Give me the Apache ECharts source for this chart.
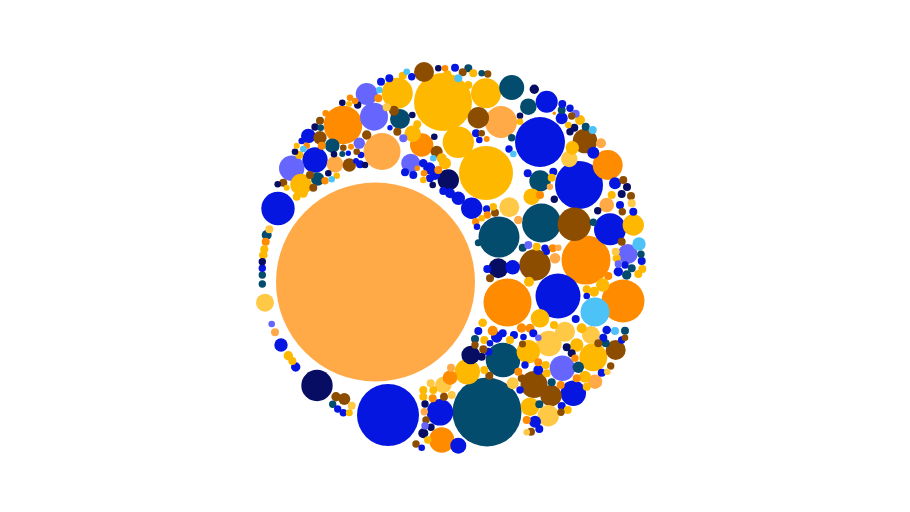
<!DOCTYPE html>
<html>
<head>
<meta charset="utf-8">
<script src="https://cdn.jsdelivr.net/npm/echarts@6/dist/echarts.min.js"></script>
<style>html,body{margin:0;padding:0;background:#fff}#main{width:910px;height:512px}</style>
</head>
<body>
<div id="main"></div>
<script>
// Category names and colours
var categories = ['peach','teal','blue','navy','brown','orange','gold','sky','violet','yellow'];
var palette = ['#FFA947','#034C6E','#0516E0','#060D62','#8C4D00','#FF8C00','#FFB800','#4CC2F7','#6666FF','#FFC845'];

// Each entry: [x, y, radius] in pack units
var peach = [[-77.5,-24,99.5],[-71,106.5,18.5],[48,136,16],[142,-123.7,7.3],[153.7,53,7.3],[-118,93.7,8.3],[102,-0.3,5.3],[148,114.7,5],[-178,-74.3,4],[65.3,38,4.3],[-2,-109.7,4],[-28.7,-153.7,3.7],[97,71.3,3.3],[105.3,10.3,3.3]];
var teal = [[34,-154,34.5],[46,21,20.5],[88.5,35,19.5],[50,-102,17.3],[58.7,170.5,12.5],[87,77,10.7],[-53,139,10],[75.3,151.3,8.3],[-120.7,112.3,7.3],[-135.3,79,6.7],[125.3,-109.3,5.7],[-186.3,23,5],[173.7,-17,4.7],[15.3,189.7,4],[108.7,148,4],[132.7,131.3,4],[178.7,-10.3,4],[-120.3,-146.3,3.7],[25.3,15.3,3.5],[22,-81,4],[98.7,-124.3,4],[86.3,-146.3,4],[172,-72.7,4],[152.7,-85.3,4],[-132.3,130.3,3.3],[-190.7,-17,3.7],[-190.7,-26,3.7],[58.7,120.3,3.7],[28.7,184.7,3.3],[140.3,35.7,3.7],[188,3.7,3.7],[-110.7,104,3],[69.7,10.3,4]];
var blue = [[-65,-157,31],[87,116,25],[126,73,24],[105,-38,22.5],[-175,49.5,16.7],[157,28.7,16],[-13,-154.3,13.3],[120.3,-135.3,12.7],[-138,98,12.7],[93.7,156.3,11],[18.7,49.7,10.7],[5.3,-187.7,8],[-144.7,122,7.3],[59.7,-9.3,7.3],[5.3,59.7,6.7],[-172,-87,6.7],[140.3,105.3,6],[108.7,139.7,6],[162,74.7,6],[82,-163.7,6],[43.7,-79,5.7],[-23.7,89.7,6],[-3,64.7,5],[-18,83,5],[85.3,-112,5],[49.7,-75.3,4],[-157.3,-109,4.7],[165.3,-13.7,4.7],[153.7,-72,4.3],[-29.7,94.7,4.3],[-93,93.7,4],[23,124.7,4],[-48,85.7,4],[-39.7,83,4],[-23,79.7,4],[2,190.3,4],[109.3,154,4],[100.3,86.3,4],[74.7,84.7,4],[34.3,-11,4],[188.7,-3,4],[167,53,4],[180.3,46.3,4],[122.7,-61,4],[-115.3,-151,3.7],[-109.7,-154.7,3.7],[-31.3,-189.7,3.3],[25.3,-73,4],[61,-77,4],[67,-132,3.7],[148.7,-114.7,4],[108.7,-148,4],[86.3,-171,4],[150.3,-79.7,4],[168.7,-82,3.7],[80.3,-75.3,4],[24,31.3,3.3],[33.7,49,3.7],[-9.7,67,4],[-63.7,179.7,4],[-151.3,117,3.3],[-104.7,104.7,2.7],[-92,103,3.3],[-97,97,3],[-190.7,-10.3,3.7],[-63,130.3,2.7],[26.3,118,3.3],[56,109,3.7],[-41.3,181.3,3.7],[117,149.7,3.7],[93.7,6.3,3.3],[172,-7,3.7],[133.7,-38,3.3],[92,9.7,3.7],[-72,176.3,4],[70.5,-79,3.3],[35.3,-93.7,4],[37,-85.3,3.3],[72,-107,3.7]];
var navy = [[-136,-127.5,15.7],[-4.7,78,10.7],[45.3,-10.3,10],[17.7,-97,9.3],[-29.7,-175.3,5],[81.3,168.7,4.7],[121.3,130.3,4],[174,71,4],[168.7,64,4],[-28,-146,3.7],[-22,-169.3,3.7],[28.7,-98.7,4],[113.7,-89.3,4],[118.7,-95.3,4],[-110.7,155.3,3.3],[-95.3,153,3.7],[-138,131,3.7],[-158,106.3,3.3],[-119,103.7,3.3],[-88,93,3.3],[-124.7,84.7,3.3],[-175.3,73.7,3.3],[-190.7,-3.7,3.7],[-40.7,143,3.3],[-18.7,121.3,3.3],[67,142.3,3.3],[-20.3,73,3.3],[-14.7,189.7,3.3],[117,126.3,3.7],[144.7,47.3,3.7],[101.3,58.7,3.7]];
var brown = [[121.3,33.7,16.7],[82,-7,15.7],[81,-126.5,13.5],[132,117,12.3],[25.3,140.3,10.7],[98,-137.7,10.7],[-29,186,10],[162.7,-92,10],[-133,120.3,6.7],[-103.7,93,6.7],[-16.3,106.3,6],[-108.7,-141,6],[-86.3,123,4.7],[-117,-138.7,4.7],[-133,137.3,4],[-143,83,4],[-169.7,75.3,4],[-139.7,70.3,4],[-59,147.3,5],[-55.7,126.3,4],[170.3,78,4],[42,45.3,4],[37,-20.3,4],[168.7,16.3,4],[178,62,4],[-27,-162,3.7],[-37,-186,3.7],[-9,-138.7,4],[22,-87,3.7],[36.3,-117.7,4],[68.7,-120.3,4],[157.7,-108,3.7],[108,-154.3,3.7],[78,-173.7,4],[145.3,-85.3,4],[172,-79.7,3.3],[-109.7,110.3,3.3],[-96.3,106.3,3.3],[28.7,124.7,3.3],[34.7,184,3.7],[118.7,142,3.7],[169.3,46.3,3.7],[9.7,185.7,4],[30.3,-91.3,4],[69.5,-86,3.5]];
var orange = [[133,-2,24.5],[54.5,-44.5,24],[170,-43,21.5],[-110,133,19.3],[154.7,93,15],[-11.3,-182,12.7],[-31.3,113,11.7],[-3,-119.7,7.3],[39.7,-72.7,5],[-131.3,112.3,4],[-14.7,88,4],[99.7,9.7,4],[87,63,4],[155.3,-18,4],[-20.3,-140.3,4],[65.3,-113.7,4],[122,-100.3,3.7],[123.7,-120.3,4],[107.7,-127,4],[85.3,-104.3,4],[73.7,-162,4],[77,-70.3,4.5],[22.7,36.3,3.7],[34.3,43,3.7],[-103,160.3,3.3],[-98,157,3.3],[-127.3,144.7,3.3],[-146.3,112.3,3.3],[-102,111.3,3],[-128,77.3,3.7],[-187.3,16.3,4],[33.7,119,3],[-35.7,89.7,2.7],[-29,84.7,3.3],[-8,189.7,3.3],[101.3,144.7,1.7],[-74.7,159.7,4],[68.5,-70,4.7]];
var gold = [[-10,156,29],[33,85,27],[5.3,115.7,15.7],[33,164.7,15],[140.3,-99.3,14],[-55.7,164.7,15.5],[14.3,-113.7,12.7],[75.3,-93.7,11.7],[180.3,33,10.7],[-152,73.5,10.7],[87,-60.3,9.3],[77,-148.7,9.3],[-40.3,124.3,8.3],[78.7,61.3,8.3],[119.3,110.3,6.7],[149.7,-27,6.7],[123.7,-87,6.7],[-8,94.7,6],[132,-118.7,6],[-11.3,99.7,5],[127,138,5],[141,-33.7,5],[76,-23.7,5],[128.7,-70.3,5],[-164.7,-97.7,4.7],[-189.7,3,4.3],[-188.7,8.7,4],[-156.3,61.3,4],[-149.7,64.7,4.5],[-160.7,-103,4],[-153.7,103,4],[-35.7,133.7,4],[15.3,173,4],[20.3,184.7,4],[-50.3,182.3,4],[98.7,80.3,4],[189.3,-11,4],[185.3,-16,4],[163.7,-0.3,4],[83.7,11.3,4],[158.7,63,4],[133.7,-31.3,4],[-103.7,-154.7,3.5],[-19.7,-132,4],[-29.7,-132,4],[-29.7,-138.7,4],[-25.3,-182,3.7],[31.3,-112,4],[31.3,-82,4],[57,-82,4],[92.7,-107,4],[93.7,-115.3,4],[114.7,-152,4],[133.7,-128.7,4],[28.7,39.7,3.3],[40.3,51.3,3.7],[-104,154,3],[-156.3,112.3,3],[-116.3,82.3,3.3],[-166.3,70.3,3],[67,136.3,3.3],[-29.7,78,3.3],[-5.7,183.7,4],[115.3,133,3.3],[101,-67,4],[29.7,-64.7,4.3]];
var sky = [[142,-54,14.5],[186,14,6.7],[5.3,179.7,4],[139.7,128,4],[162,-73,4],[-73.7,168,3.3],[-149.7,109,3.3],[-121.3,78.7,3.3],[60.3,104,3.3],[-19.7,99.7,3.3],[-46.3,186.3,3.3]];
var violet = [[-79,141.3,14],[-86.3,164,11],[109.3,-110.3,12.7],[-161.3,89.7,12.7],[-42.3,94.7,9.5],[174.7,4,10],[-93.7,114.7,5.7],[-49.7,119.7,4],[122.7,144.3,4],[75.3,13,4],[-28,-167.7,3.7],[85.3,-79.7,3.3],[-181.3,-66,3.3],[165.3,-6,3.7]];
var yellow = [[96,-85.5,12.7],[56.3,50.7,10],[112,-73.7,10],[-188,-44.7,9],[138,-77,9],[116.3,99,8.3],[-9.7,-127,8.3],[59.7,-125.3,6],[95.3,-157.7,10.7],[-183.7,28.7,4],[-101.3,-147.7,4],[-22.3,-125.3,4],[-1.3,-137,4],[154.3,-113.7,3.3],[73.7,-174.3,3.3],[162.7,6.3,4],[178.7,54.7,4],[-66.3,150.7,4]];

var groups = [peach, teal, blue, navy, brown, orange, gold, sky, violet, yellow];
var data = [];
groups.forEach(function (g, ci) {
  g.forEach(function (d) { data.push([d[0], d[1], d[2], ci]); });
});
data.sort(function (a, b) { return b[2] - a[2]; });

var chart = echarts.init(document.getElementById('main'), null, {renderer: 'canvas'});
chart.setOption({
  animation: false,
  backgroundColor: '#ffffff',
  grid: {left: 253, top: 58, width: 400, height: 400},
  xAxis: {type: 'value', min: -200, max: 200, show: false},
  yAxis: {type: 'value', min: -200, max: 200, show: false},
  series: [{
    type: 'custom',
    coordinateSystem: 'cartesian2d',
    data: data,
    encode: {x: 0, y: 1},
    renderItem: function (params, api) {
      var c = api.coord([api.value(0), api.value(1)]);
      var s = api.size([api.value(2), api.value(2)]);
      return {
        type: 'circle',
        shape: {cx: c[0], cy: c[1], r: s[0]},
        style: {fill: palette[api.value(3)]}
      };
    }
  }]
});
</script>
</body>
</html>
